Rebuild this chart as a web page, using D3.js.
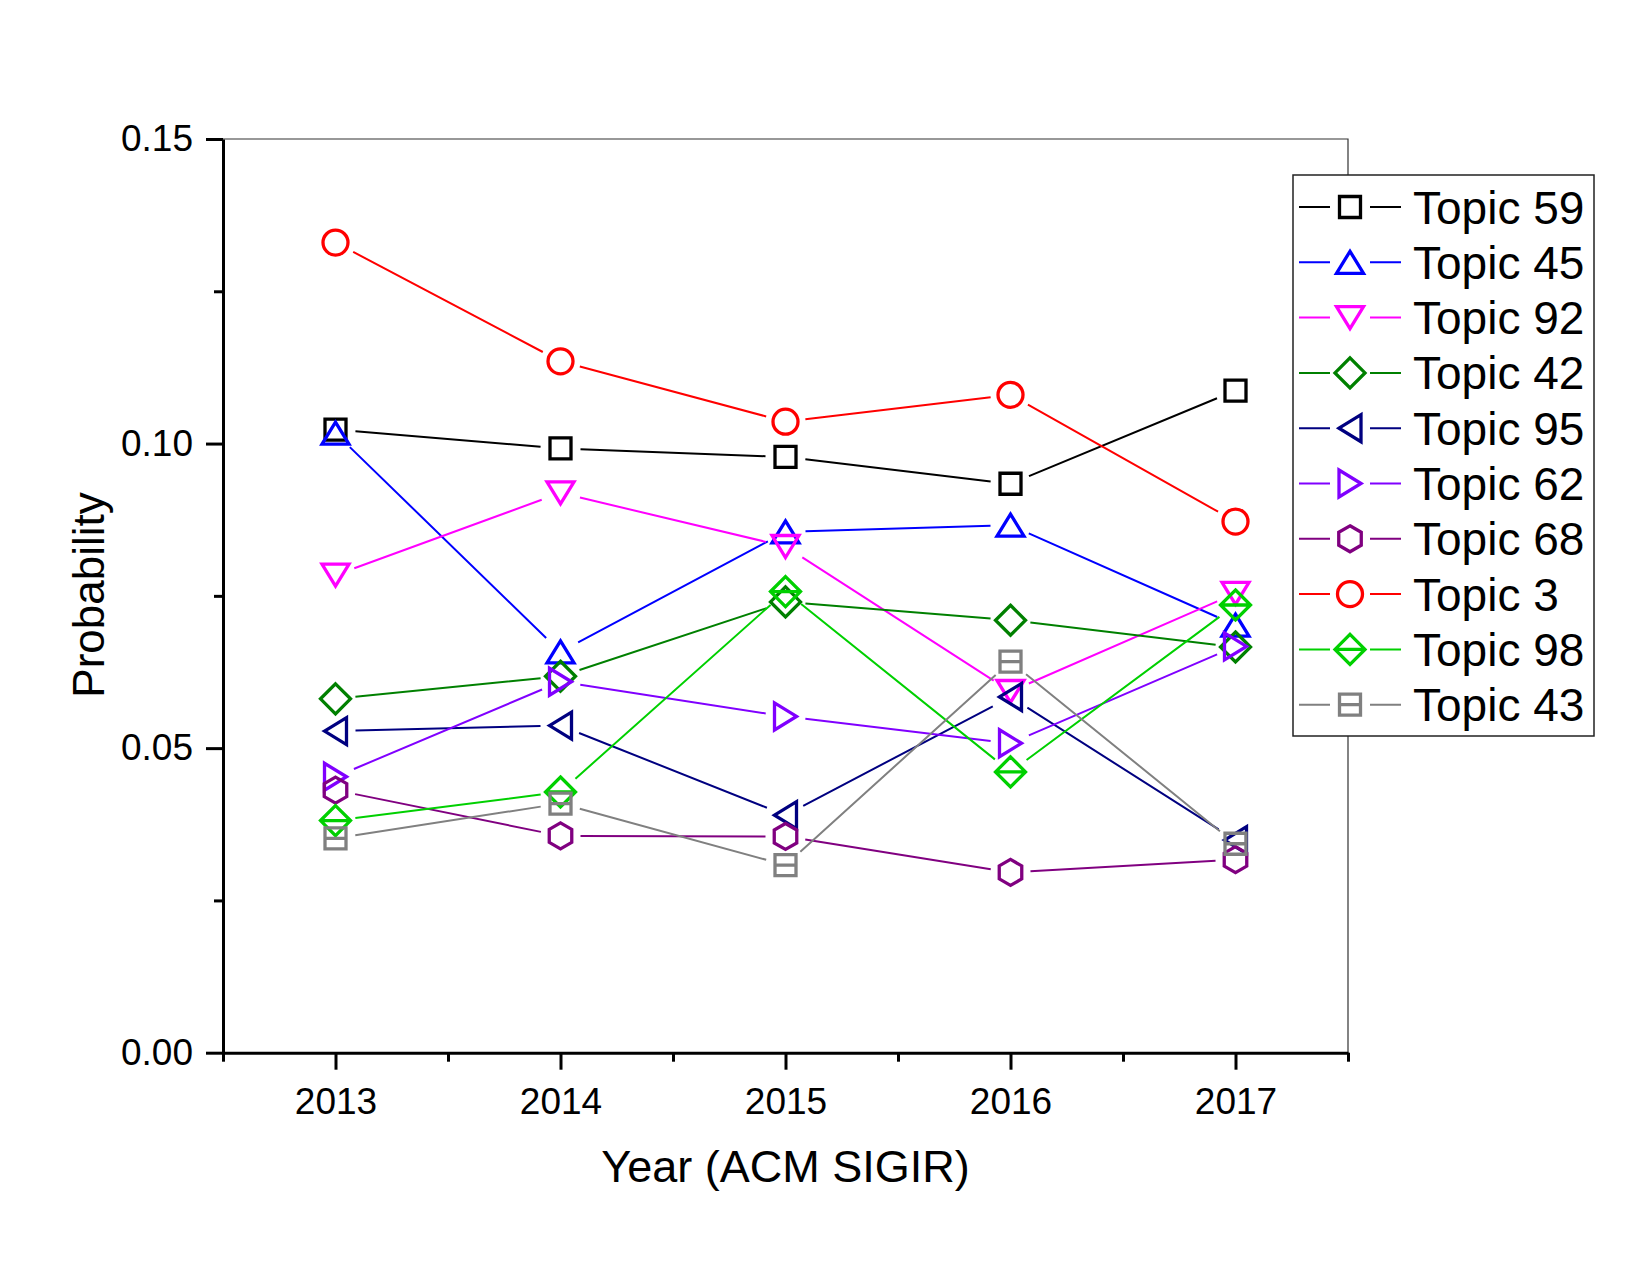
<!DOCTYPE html>
<html>
<head>
<meta charset="utf-8">
<script src="https://cdn.jsdelivr.net/npm/d3@7"></script>
<style>
    body { margin: 0; background: #fff; }
    svg { display: block; font-family: "Liberation Sans", Arial, Helvetica, sans-serif; }
</style>
</head>
<body>
<div id="graph"></div>
<script>
// Années (ACM SIGIR)
const years = [2013, 2014, 2015, 2016, 2017]

// Probabilité de chaque topic par année
const topic59 = [0.1023, 0.0992, 0.0978, 0.0934, 0.1087]
const topic45 = [0.1017, 0.0658, 0.0855, 0.0866, 0.0702]
const topic92 = [0.0784, 0.0919, 0.0831, 0.0593, 0.0754]
const topic42 = [0.0581, 0.0618, 0.0740, 0.0710, 0.0666]
const topic95 = [0.0528, 0.0537, 0.0390, 0.0584, 0.0349]
const topic62 = [0.0453, 0.0609, 0.0552, 0.0508, 0.0667]
const topic68 = [0.0431, 0.0356, 0.0355, 0.0296, 0.0317]
const topic3 = [0.1330, 0.1135, 0.1036, 0.1080, 0.0872]
const topic98 = [0.0381, 0.0428, 0.0757, 0.0461, 0.0735]
const topic43 = [0.0352, 0.0409, 0.0308, 0.0642, 0.0343]

const topicNames = ["Topic 59", "Topic 45", "Topic 92", "Topic 42", "Topic 95",
    "Topic 62", "Topic 68", "Topic 3", "Topic 98", "Topic 43"]
const topicValues = [topic59, topic45, topic92, topic42, topic95,
    topic62, topic68, topic3, topic98, topic43]

// Ticks des axes
const yTicks = [0, 0.05, 0.10, 0.15]
const yMinorTicks = [0.025, 0.075, 0.125]
const xMinorTicks = [2012.5, 2013.5, 2014.5, 2015.5, 2016.5, 2017.5]

// Apparence de chaque série (couleur + symbole)
const colors = ["#000000", "#0000ff", "#ff00ff", "#008000", "#000080",
    "#8000ff", "#800080", "#ff0000", "#00d000", "#808080"]
const shapes = ["square", "triUp", "triDown", "diamond", "triLeft",
    "triRight", "hexagon", "circle", "diamondBar", "squareBar"]

const series = topicNames.map((name, i) => ({
    name: name,
    color: colors[i],
    shape: shapes[i],
    points: years.map((year, j) => ({ year: year, value: topicValues[i][j] }))
}))

/* ------------------------------------------------------------------------------
    SVG
------------------------------------------------------------------------------ */
const W = 1650, H = 1275
const plot = { left: 223, right: 1348, top: 139, bottom: 1052.7 }

const svg = d3.select("#graph")
    .append("svg")
    .attr("width", W)
    .attr("height", H)

const x = d3.scaleLinear()
    .domain([2012.5, 2017.5])
    .range([plot.left, plot.right])

const y = d3.scaleLinear()
    .domain([0, 0.15])
    .range([plot.bottom, plot.top])

// Symboles façon Origin (creux)
function symbolPath(shape) {
    const s = 10.5
    switch (shape) {
        case "square": return `M${-s},${-s}H${s}V${s}H${-s}Z`
        case "squareBar": return `M${-s},${-s}H${s}V${s}H${-s}ZM${-s},0H${s}`
        case "circle": return "M12.5,0A12.5,12.5 0 1 1 -12.5,0A12.5,12.5 0 1 1 12.5,0Z"
        case "triUp": return "M0,-11L13.5,11L-13.5,11Z"
        case "triDown": return "M0,11L13.5,-11L-13.5,-11Z"
        case "triLeft": return "M-11,0L11,-13.5L11,13.5Z"
        case "triRight": return "M11,0L-11,-13.5L-11,13.5Z"
        case "diamond": return "M0,-15L15,0L0,15L-15,0Z"
        case "diamondBar": return "M0,-15L15,0L0,15L-15,0ZM-15,0H15"
        case "hexagon": {
            const r = 13
            const pts = d3.range(6).map(k => {
                const a = (-90 + 60 * k) * Math.PI / 180
                return [r * Math.cos(a), r * Math.sin(a)]
            })
            return "M" + pts.map(p => p.join(",")).join("L") + "Z"
        }
    }
}

/* ------------------------------------------------------------------------------
    CADRE + AXES
------------------------------------------------------------------------------ */
// Bord haut et droit (fins)
svg.append("path")
    .attr("d", `M${plot.left},${plot.top}H${plot.right}V${plot.bottom}`)
    .attr("fill", "none")
    .attr("stroke", "#333")
    .attr("stroke-width", 1.2)

// Axe Y
svg.append("g")
    .attr("transform", `translate(${plot.left},0)`)
    .call(d3.axisLeft(y).tickValues(yTicks).tickFormat(d3.format(".2f"))
        .tickSize(17).tickSizeOuter(0).tickPadding(13))
svg.append("g")
    .attr("transform", `translate(${plot.left},0)`)
    .call(d3.axisLeft(y).tickValues(yMinorTicks).tickFormat("")
        .tickSize(9).tickSizeOuter(0))
    .select(".domain").remove()

// Axe X
svg.append("g")
    .attr("transform", `translate(0,${plot.bottom})`)
    .call(d3.axisBottom(x).tickValues(years).tickFormat(d3.format("d"))
        .tickSize(17).tickSizeOuter(0).tickPadding(18))
svg.append("g")
    .attr("transform", `translate(0,${plot.bottom})`)
    .call(d3.axisBottom(x).tickValues(xMinorTicks).tickFormat("")
        .tickSize(9).tickSizeOuter(0))
    .select(".domain").remove()

svg.selectAll(".domain, .tick line")
    .attr("stroke", "#000")
    .attr("stroke-width", 3)
svg.selectAll(".tick text")
    .attr("fill", "#000")
    .style("font-size", "37px")
    .style("font-family", "inherit")

// Titres des axes
svg.append("text")
    .attr("x", x(2015))
    .attr("y", 1182)
    .attr("text-anchor", "middle")
    .style("font-size", "45px")
    .text("Year (ACM SIGIR)")

svg.append("text")
    .attr("transform", "translate(104,595) rotate(-90)")
    .attr("text-anchor", "middle")
    .style("font-size", "44px")
    .text("Probability")

/* ------------------------------------------------------------------------------
    SÉRIES
------------------------------------------------------------------------------ */
// Les lignes s'arrêtent avant les symboles (comme dans Origin)
const gap = 20
function gappedSegments(points) {
    const segs = []
    for (let i = 0; i < points.length - 1; i++) {
        const x1 = x(points[i].year), y1 = y(points[i].value)
        const x2 = x(points[i + 1].year), y2 = y(points[i + 1].value)
        const len = Math.hypot(x2 - x1, y2 - y1)
        if (len <= 2 * gap) continue
        const ux = (x2 - x1) / len, uy = (y2 - y1) / len
        segs.push(`M${x1 + ux * gap},${y1 + uy * gap}L${x2 - ux * gap},${y2 - uy * gap}`)
    }
    return segs.join("")
}

const seriesG = svg.selectAll(".serie")
    .data(series)
    .join("g")
    .attr("class", "serie")

seriesG.append("path")
    .attr("d", d => gappedSegments(d.points))
    .attr("fill", "none")
    .attr("stroke", d => d.color)
    .attr("stroke-width", 2)

seriesG.each(function (d) {
    d3.select(this).selectAll(".marker")
        .data(d.points)
        .join("path")
        .attr("class", "marker")
        .attr("transform", p => `translate(${x(p.year)},${y(p.value)})`)
        .attr("d", symbolPath(d.shape))
        .attr("fill", "none")
        .attr("stroke", d.color)
        .attr("stroke-width", 3.3)
})

/* ------------------------------------------------------------------------------
    LÉGENDE
------------------------------------------------------------------------------ */
const legend = svg.append("g")
legend.append("rect")
    .attr("x", 1293)
    .attr("y", 175)
    .attr("width", 301)
    .attr("height", 561)
    .attr("fill", "#fff")
    .attr("stroke", "#222")
    .attr("stroke-width", 1.5)

const rowH = 55.3
const rows = legend.selectAll(".row")
    .data(series)
    .join("g")
    .attr("class", "row")
    .attr("transform", (d, i) => `translate(1350,${207 + i * rowH})`)

rows.append("path")
    .attr("d", "M-51,0H-20M20,0H51")
    .attr("stroke", d => d.color)
    .attr("stroke-width", 2)

rows.append("path")
    .attr("d", d => symbolPath(d.shape))
    .attr("fill", "none")
    .attr("stroke", d => d.color)
    .attr("stroke-width", 3.3)

rows.append("text")
    .attr("x", 63)
    .attr("y", 16.5)
    .style("font-size", "46px")
    .text(d => d.name)
</script>
</body>
</html>
